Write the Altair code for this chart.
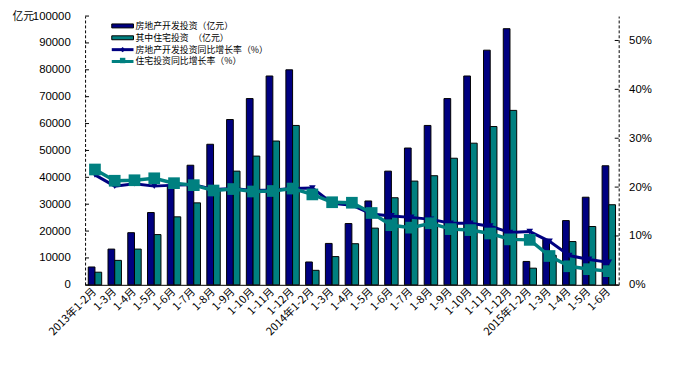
import altair as alt
import pandas as pd

periods = [
    "2013年1-2月", "2013年1-3月", "2013年1-4月", "2013年1-5月", "2013年1-6月", "2013年1-7月",
    "2013年1-8月", "2013年1-9月", "2013年1-10月", "2013年1-11月", "2013年1-12月",
    "2014年1-2月", "2014年1-3月", "2014年1-4月", "2014年1-5月", "2014年1-6月", "2014年1-7月",
    "2014年1-8月", "2014年1-9月", "2014年1-10月", "2014年1-11月", "2014年1-12月",
    "2015年1-2月", "2015年1-3月", "2015年1-4月", "2015年1-5月", "2015年1-6月",
]
dev_invest = [6640, 13300, 19400, 26900, 36900, 44500, 52300, 61500, 69300, 77700, 80000,
              8500, 15400, 22800, 31200, 42300, 50900, 59300, 69300, 77700, 87300, 95300,
              8700, 16900, 23900, 32600, 44300]
res_invest = [4700, 9100, 13300, 18700, 25300, 30500, 35800, 42300, 47900, 53500, 59300,
              5400, 10500, 15300, 21100, 32400, 38600, 40600, 47100, 52700, 58900, 64900,
              6200, 11000, 16100, 21700, 29800]
dev_growth = [22.5, 20.2, 20.7, 20.2, 20.4, 20.5, 19.5, 19.7, 19.3, 19.4, 19.7,
              19.8, 16.7, 16.3, 14.5, 14.1, 13.8, 13.4, 12.6, 12.6, 12.0, 10.7,
              10.9, 8.9, 6.0, 5.2, 4.6]
res_growth = [23.6, 21.3, 21.4, 21.8, 20.8, 20.4, 19.3, 19.6, 19.1, 19.2, 19.7,
              18.5, 16.9, 16.8, 14.7, 12.2, 11.7, 12.6, 11.4, 11.2, 10.5, 9.3,
              9.2, 5.9, 3.8, 3.2, 2.8]
left_ticks = [0, 10000, 20000, 30000, 40000, 50000, 60000, 70000, 80000, 90000, 100000]
right_ticks = [0, 10, 20, 30, 40, 50]

NAVY = "#000080"
TEAL = "#008080"
LAT = "Liberation Sans"
CJK = "Noto Sans CJK SC"

df = pd.DataFrame({"period": periods, "dev": dev_invest, "res": res_invest,
                   "dev_g": dev_growth, "res_g": res_growth})
bars_df = df.melt(id_vars="period", value_vars=["dev", "res"], var_name="series", value_name="amount")

x_enc = alt.X(
    "period:N", sort=periods,
    scale=alt.Scale(paddingInner=0.32, paddingOuter=0.16),
    axis=alt.Axis(
        title=None, labelAngle=-45, labelAlign="right", labelBaseline="middle",
        labelPadding=5, ticks=False, domainColor="black", domainWidth=1,
        labelFont=CJK, labelFontSize=11, labelColor="black",
        labelExpr="slice(datum.value, 5) == '1-2月' ? datum.value : slice(datum.value, 5)",
        labelOverlap=False,
    ),
)

left_scale = alt.Scale(domain=[0, 100000], nice=False)
right_scale = alt.Scale(domain=[0, 55], nice=False)

y_left = alt.Axis(
    values=left_ticks, format="d", domainDash=[3, 2], domainColor="black", domainWidth=1,
    ticks=False, grid=False, labelFont=LAT, labelFontSize=11.5, labelColor="black",
    labelPadding=15, labelOverlap=False, title="亿元", titleAngle=0, titleX=-74, titleY=0,
    titleAlign="left", titleBaseline="middle", titleFont=CJK, titleFontSize=11,
    titleFontWeight="normal", titleColor="black")

y_right = alt.Axis(
    orient="right", values=right_ticks, labelExpr="datum.value + '%'", domainDash=[3, 2],
    domainColor="black", domainWidth=1, ticks=False, grid=False, labelFont=LAT, labelFontSize=11.5,
    labelColor="black", labelPadding=10, labelOverlap=False, title=None)

bars = alt.Chart(bars_df).mark_bar(stroke="black", strokeWidth=1).encode(
    x=x_enc,
    xOffset=alt.XOffset("series:N", sort=["dev", "res"], scale=alt.Scale(paddingInner=0, paddingOuter=0)),
    y=alt.Y("amount:Q", scale=left_scale, axis=y_left, title="亿元"),
    color=alt.Color("series:N", scale=alt.Scale(domain=["dev", "res"], range=[NAVY, TEAL]), legend=None),
)
lt = alt.Chart(pd.DataFrame({"v": left_ticks})).mark_rule(color="black", strokeWidth=1).encode(
    y=alt.Y("v:Q", scale=left_scale, axis=y_left, title="亿元"), x=alt.value(0), x2=alt.value(4))
left_layer = alt.layer(bars, lt)

dev_line = alt.Chart(df).mark_line(color=NAVY, strokeWidth=3).encode(
    x=x_enc, y=alt.Y("dev_g:Q", scale=right_scale, axis=y_right))
dev_pts = alt.Chart(df).mark_point(shape="triangle-down", filled=True, size=45, color=NAVY, opacity=1).encode(
    x=x_enc, y=alt.Y("dev_g:Q", scale=right_scale, axis=y_right))
res_line = alt.Chart(df).mark_line(color=TEAL, strokeWidth=3.5).encode(
    x=x_enc, y=alt.Y("res_g:Q", scale=right_scale, axis=y_right))
res_pts = alt.Chart(df).mark_point(shape="square", filled=True, size=140, color=TEAL, opacity=1).encode(
    x=x_enc, y=alt.Y("res_g:Q", scale=right_scale, axis=y_right))
rt = alt.Chart(pd.DataFrame({"v": right_ticks})).mark_rule(color="black", strokeWidth=1).encode(
    y=alt.Y("v:Q", scale=right_scale, axis=y_right), x=alt.value(536), x2=alt.value(540))
right_layer = alt.layer(dev_line, dev_pts, res_line, res_pts, rt)

one = pd.DataFrame({"k": [0]})
legend_labels = ["房地产开发投资（亿元）", "其中住宅投资　（亿元）", "房地产开发投资同比增长率（%）", "住宅投资同比增长率（%）"]
rows_y = [10, 22, 34, 46]
leg = [
    alt.Chart(one).mark_rect(color=NAVY, stroke="black", strokeWidth=1).encode(
        x=alt.value(27), x2=alt.value(49), y=alt.value(rows_y[0] - 2), y2=alt.value(rows_y[0] + 2)),
    alt.Chart(one).mark_rect(color=TEAL, stroke="black", strokeWidth=1).encode(
        x=alt.value(27), x2=alt.value(49), y=alt.value(rows_y[1] - 2), y2=alt.value(rows_y[1] + 2)),
    alt.Chart(one).mark_rule(color=NAVY, strokeWidth=3).encode(
        x=alt.value(27), x2=alt.value(49), y=alt.value(rows_y[2])),
    alt.Chart(one).mark_point(shape="diamond", filled=True, size=30, color=NAVY, opacity=1).encode(
        x=alt.value(38), y=alt.value(rows_y[2])),
    alt.Chart(one).mark_rule(color=TEAL, strokeWidth=3).encode(
        x=alt.value(27), x2=alt.value(49), y=alt.value(rows_y[3])),
    alt.Chart(one).mark_point(shape="square", filled=True, size=30, color=TEAL, opacity=1).encode(
        x=alt.value(38), y=alt.value(rows_y[3] - 1)),
]
for lab, yy in zip(legend_labels, rows_y):
    leg.append(alt.Chart(one).mark_text(align="left", baseline="middle", font=CJK, fontSize=9,
                                        color="black").encode(
        x=alt.value(51), y=alt.value(yy), text=alt.value(lab)))

chart = alt.layer(left_layer, right_layer, *leg).resolve_scale(y="independent").properties(
    width=540, height=272,
    padding={"left": 78, "top": 6, "right": 58, "bottom": 80},
    autosize=alt.AutoSizeParams(type="none"),
    background="white",
).configure_view(stroke=None)

chart.save("out.html", embed_options={"renderer": "svg", "actions": False})
